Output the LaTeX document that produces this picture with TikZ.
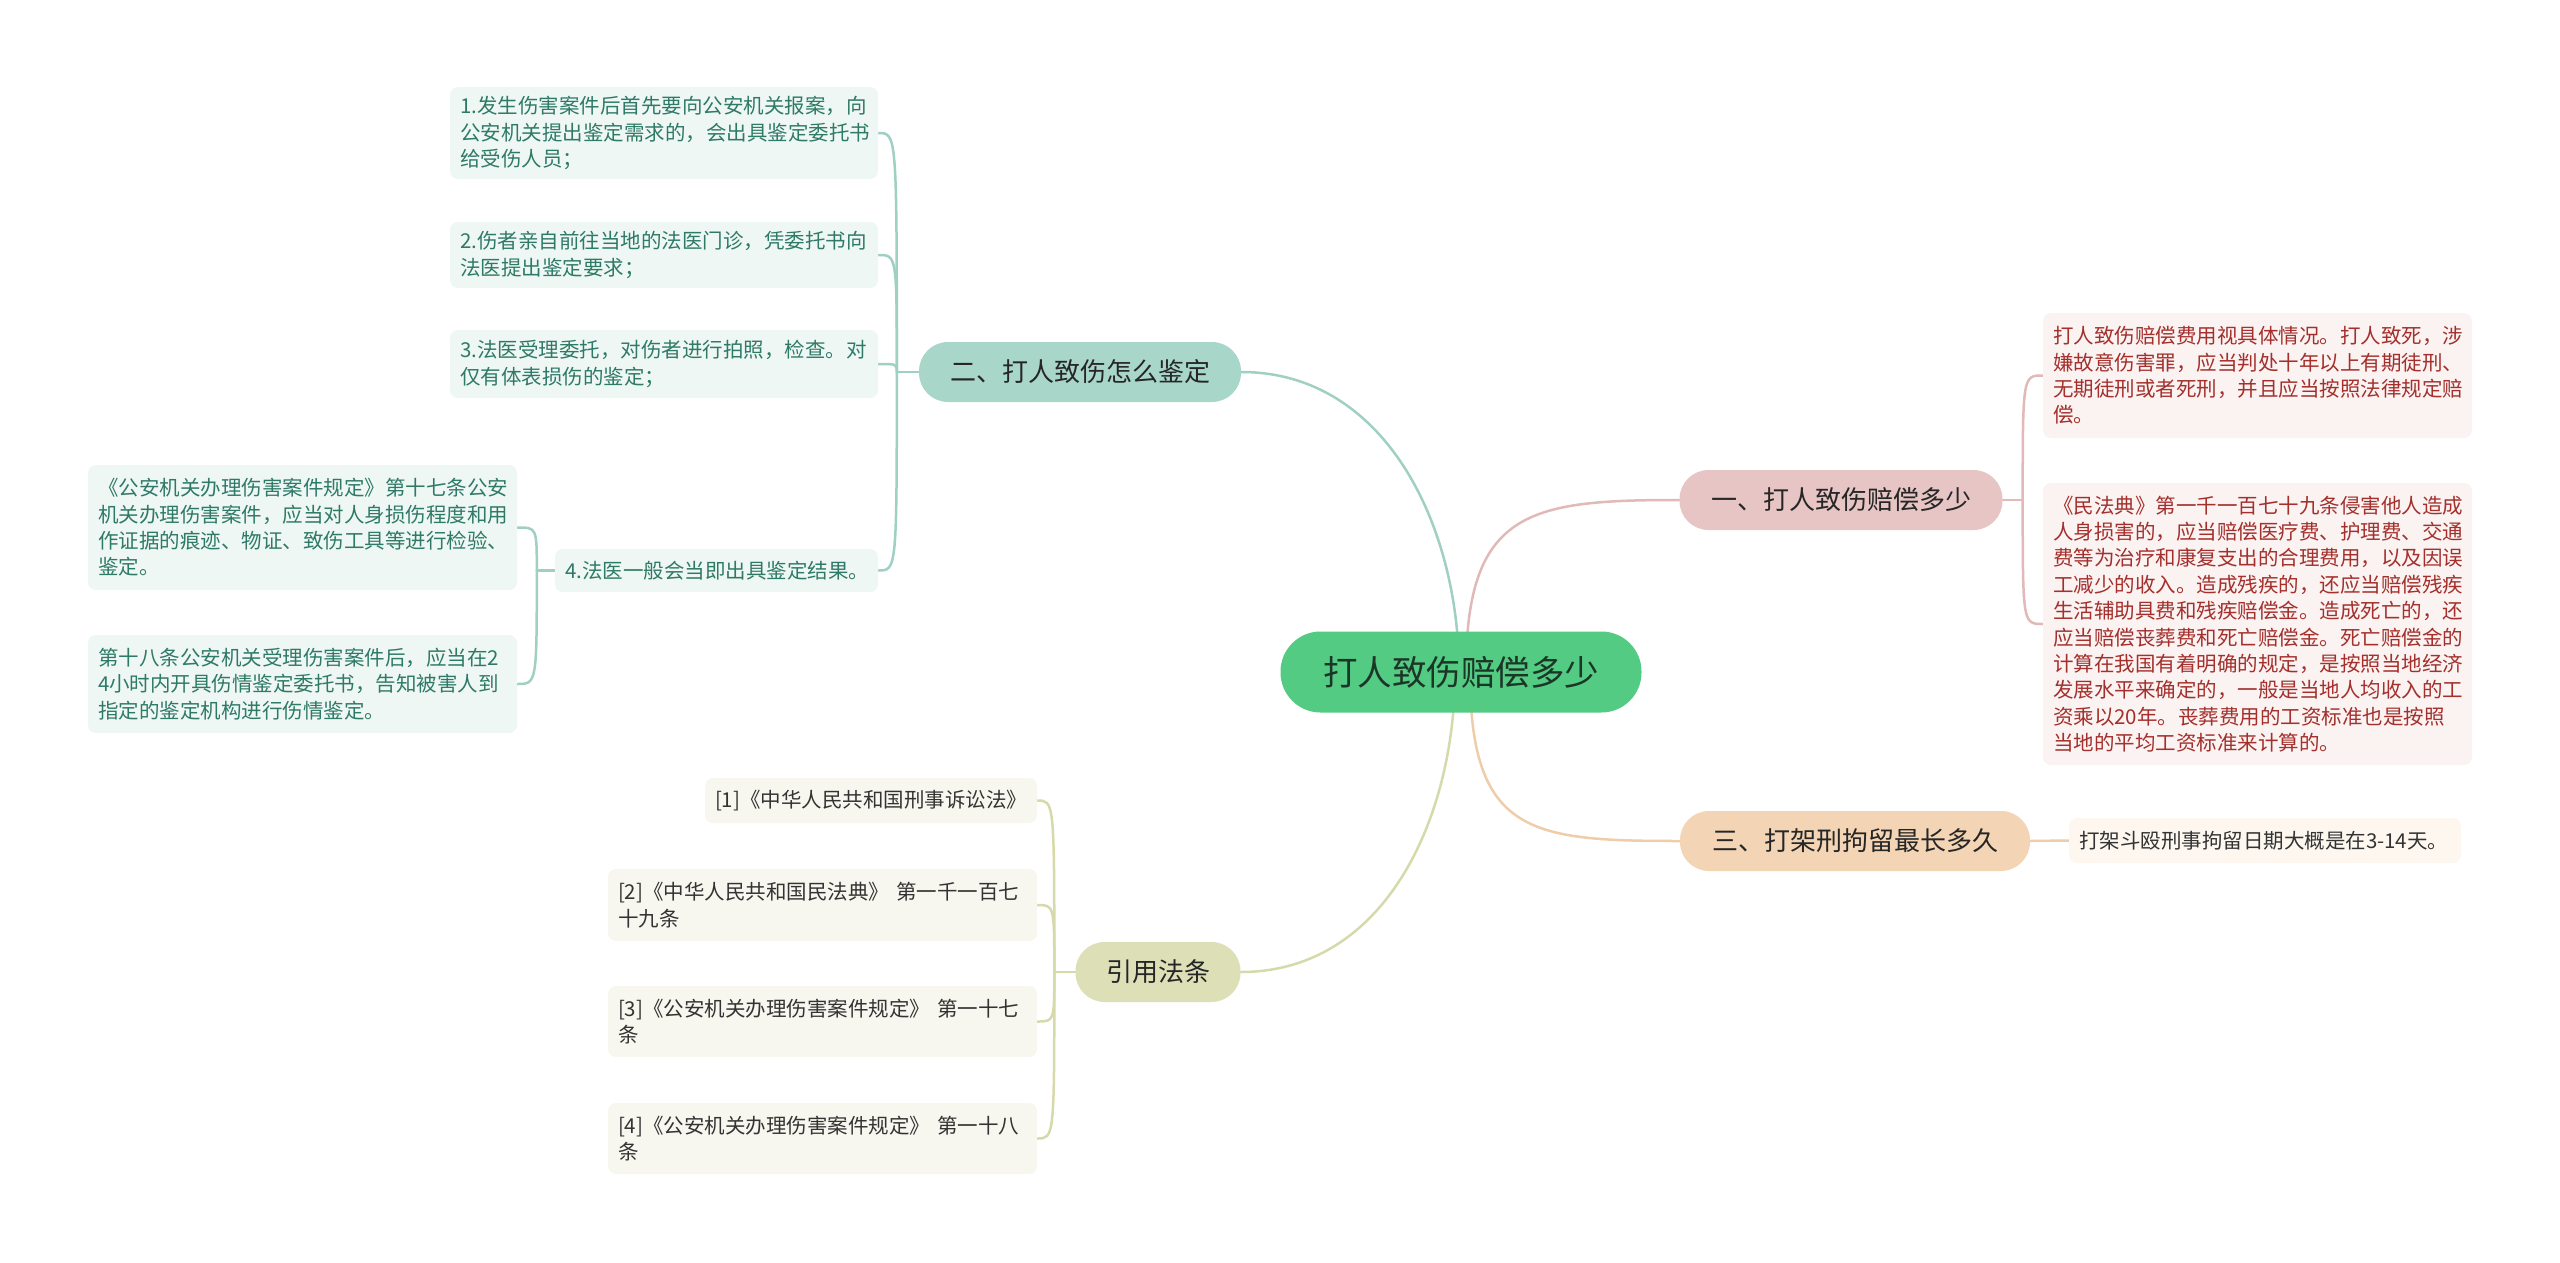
\documentclass[tikz,border=0pt]{standalone}
\usepackage{fontspec}
\setmainfont{Noto Sans CJK SC}
\usetikzlibrary{calc,backgrounds}
\definecolor{rootfill}{HTML}{53CB83}
\definecolor{roottext}{HTML}{1B3527}
\definecolor{topictext}{HTML}{262626}
\definecolor{tealfill}{HTML}{A8D7CA}
\definecolor{tealline}{HTML}{A0D0C3}
\definecolor{tealleaf}{HTML}{EEF7F4}
\definecolor{tealtext}{HTML}{2F7A66}
\definecolor{pinkfill}{HTML}{E8C5C5}
\definecolor{pinkline}{HTML}{E2B9B9}
\definecolor{pinkleaf}{HTML}{FBF2F2}
\definecolor{pinktext}{HTML}{A3302C}
\definecolor{peachfill}{HTML}{F3D4B4}
\definecolor{peachline}{HTML}{EFCDAA}
\definecolor{peachleaf}{HTML}{FDF7F0}
\definecolor{olivefill}{HTML}{DDE0B7}
\definecolor{oliveline}{HTML}{D6DAAA}
\definecolor{oliveleaf}{HTML}{F7F7EF}
\definecolor{leaftext}{HTML}{333333}
\begin{document}
\begin{tikzpicture}[x=1pt, y=-1pt,
  rootbox/.style={fill=rootfill, text=roottext, rounded corners=40pt,
    minimum width=361pt, minimum height=81pt, font=\fontsize{34.5}{40}\selectfont},
  topic/.style={rounded corners=29pt, minimum height=60pt, text=topictext,
    font=\fontsize{26}{30}\selectfont},
  leaf/.style={rounded corners=8pt, inner xsep=10pt, inner ysep=0pt, align=left,
    font=\fontsize{20.5}{26.4}\selectfont},
  link/.style={line width=2.5pt, line cap=round}]
  \useasboundingbox (0,0) rectangle (2560,1263);

  \node[rootbox] (root) at (1461,672) {打人致伤赔偿多少};

  \node[topic, fill=tealfill, minimum width=322pt] (b2) at (1080,372) {二、打人致伤怎么鉴定};
  \node[topic, fill=pinkfill, minimum width=323pt] (b1) at (1841,500) {一、打人致伤赔偿多少};
  \node[topic, fill=peachfill, minimum width=350pt] (b3) at (1855,841) {三、打架刑拘留最长多久};
  \node[topic, fill=olivefill, minimum width=165pt] (b4) at (1158,972) {引用法条};

  % branch 二
  \node[leaf, fill=tealleaf, text=tealtext, text width=408pt, minimum height=92pt] (l1) at (664,133)
    {1.发生伤害案件后首先要向公安机关报案，向\\公安机关提出鉴定需求的，会出具鉴定委托书\\给受伤人员；};
  \node[leaf, fill=tealleaf, text=tealtext, text width=408pt, minimum height=66pt] (l2) at (664,255)
    {2.伤者亲自前往当地的法医门诊，凭委托书向\\法医提出鉴定要求；};
  \node[leaf, fill=tealleaf, text=tealtext, text width=408pt, minimum height=68pt] (l3) at (664,364)
    {3.法医受理委托，对伤者进行拍照，检查。对\\仅有体表损伤的鉴定；};
  \node[leaf, fill=tealleaf, text=tealtext, text width=303pt, minimum height=43pt] (l4) at (716.5,570.5)
    {4.法医一般会当即出具鉴定结果。};
  \node[leaf, fill=tealleaf, text=tealtext, text width=409pt, minimum height=125pt] (s1) at (302.5,527.5)
    {《公安机关办理伤害案件规定》第十七条公安\\机关办理伤害案件，应当对人身损伤程度和用\\作证据的痕迹、物证、致伤工具等进行检验、\\鉴定。};
  \node[leaf, fill=tealleaf, text=tealtext, text width=409pt, minimum height=98pt] (s2) at (302.5,684)
    {第十八条公安机关受理伤害案件后，应当在2\\4小时内开具伤情鉴定委托书，告知被害人到\\指定的鉴定机构进行伤情鉴定。};

  % branch 一
  \node[leaf, fill=pinkleaf, text=pinktext, text width=409pt, minimum height=125pt] (p1) at (2257.5,375.5)
    {打人致伤赔偿费用视具体情况。打人致死，涉\\嫌故意伤害罪，应当判处十年以上有期徒刑、\\无期徒刑或者死刑，并且应当按照法律规定赔\\偿。};
  \node[leaf, fill=pinkleaf, text=pinktext, text width=409pt, minimum height=282pt] (p2) at (2257.5,624)
    {《民法典》第一千一百七十九条侵害他人造成\\人身损害的，应当赔偿医疗费、护理费、交通\\费等为治疗和康复支出的合理费用，以及因误\\工减少的收入。造成残疾的，还应当赔偿残疾\\生活辅助具费和残疾赔偿金。造成死亡的，还\\应当赔偿丧葬费和死亡赔偿金。死亡赔偿金的\\计算在我国有着明确的规定，是按照当地经济\\发展水平来确定的，一般是当地人均收入的工\\资乘以20年。丧葬费用的工资标准也是按照\\当地的平均工资标准来计算的。};

  % branch 三
  \node[leaf, fill=peachleaf, text=leaftext, text width=372pt, minimum height=45pt] (q1) at (2265,840.5)
    {打架斗殴刑事拘留日期大概是在3-14天。};

  % references
  \node[leaf, fill=oliveleaf, text=leaftext, text width=312pt, minimum height=45pt] (r1) at (871,800.5)
    {[1]《中华人民共和国刑事诉讼法》};
  \node[leaf, fill=oliveleaf, text=leaftext, text width=409pt, minimum height=72pt] (r2) at (822.5,905)
    {[2]《中华人民共和国民法典》 第一千一百七\\十九条};
  \node[leaf, fill=oliveleaf, text=leaftext, text width=409pt, minimum height=71pt] (r3) at (822.5,1021.5)
    {[3]《公安机关办理伤害案件规定》 第一十七\\条};
  \node[leaf, fill=oliveleaf, text=leaftext, text width=409pt, minimum height=71pt] (r4) at (822.5,1138.5)
    {[4]《公安机关办理伤害案件规定》 第一十八\\条};

  \coordinate (j2) at ($(b2.west)+(-22,0)$);
  \coordinate (jl4) at ($(l4.west)+(-18,0)$);
  \coordinate (j1) at ($(b1.east)+(20,0)$);
  \coordinate (j4) at ($(b4.west)+(-21,0)$);

  \begin{scope}[on background layer]
    \draw[link, tealline] ($(root.center)+(-2,0)$) .. controls +(0,-145) and +(145,0) .. (b2.east);
    \draw[link, pinkline] ($(root.center)+(5,0)$) .. controls +(0,-162) and +(-150,0) .. (b1.west);
    \draw[link, peachline] ($(root.center)+(9,0)$) .. controls +(0,162) and +(-150,0) .. (b3.west);
    \draw[link, oliveline] ($(root.center)+(-6,0)$) .. controls +(0,145) and +(145,0) .. (b4.east);

    \draw[link, tealline] (b2.west) -- (j2);
    \foreach \n in {l1,l2,l3,l4}
      \draw[link, tealline] (j2) .. controls (j2 |- \n.east) .. (\n.east);
    \draw[link, tealline] (l4.west) -- (jl4);
    \foreach \n in {s1,s2}
      \draw[link, tealline] (jl4) .. controls (jl4 |- \n.east) .. (\n.east);

    \draw[link, pinkline] (b1.east) -- (j1);
    \foreach \n in {p1,p2}
      \draw[link, pinkline] (j1) .. controls (j1 |- \n.west) .. (\n.west);

    \draw[link, peachline] (b3.east) -- (q1.west);

    \draw[link, oliveline] (b4.west) -- (j4);
    \foreach \n in {r1,r2,r3,r4}
      \draw[link, oliveline] (j4) .. controls (j4 |- \n.east) .. (\n.east);
  \end{scope}
\end{tikzpicture}
\end{document}
